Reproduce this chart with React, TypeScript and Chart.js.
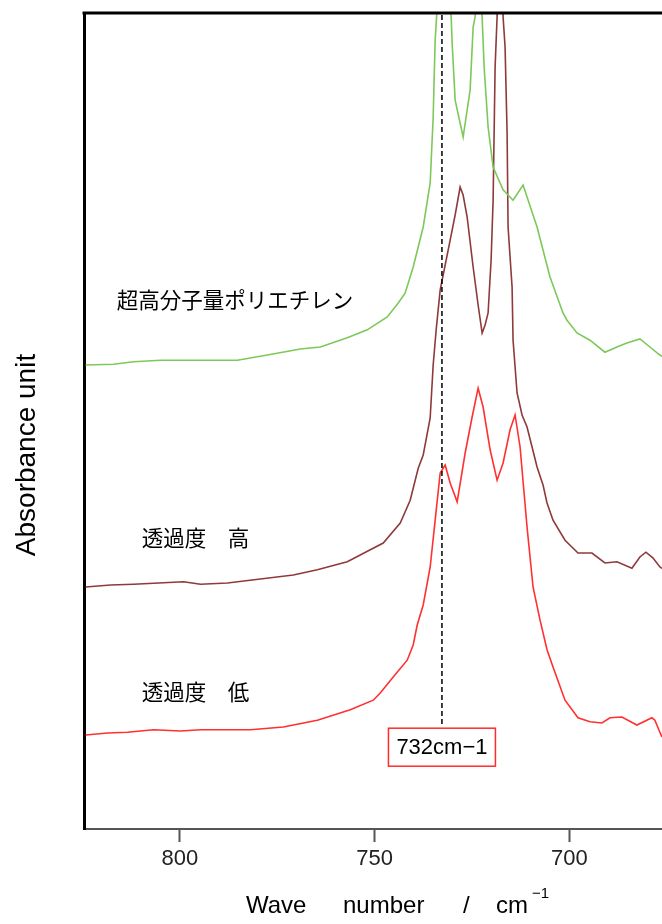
import React, { useEffect, useRef } from "react";
import { Chart, registerables } from "chart.js";

Chart.register(...registerables);

// ---- data (wave number in cm^-1, absorbance in arbitrary units) ----
const wavenumberUHMWPE = [
  824.18, 817.0, 811.87, 804.95, 794.69, 785.21, 777.51, 769.05, 763.92, 757.0,
  751.87, 746.74, 743.92, 742.13, 740.08, 737.51, 735.72, 734.95, 734.44, 732.38,
  730.33, 730.08, 729.31, 727.26, 725.46, 724.69, 724.18, 723.28, 722.38, 721.87,
  720.85, 719.56, 717.0, 714.44, 711.87, 708.28, 704.95, 701.62, 700.59, 698.03,
  694.69, 690.85, 687.77, 685.21, 681.87, 679.31, 676.74, 675.97,
];
const absorbanceUHMWPE = [
  58.0, 58.1, 58.4, 58.6, 58.6, 58.6, 59.25, 60.0, 60.25, 61.4,
  62.4, 64.0, 65.75, 67.0, 70.25, 75.25, 80.75, 89.0, 98.6, 115.0,
  101.5, 98.25, 91.1, 86.5, 92.4, 100.25, 101.5, 111.1, 101.5, 95.25,
  87.75, 82.75, 79.9, 78.6, 80.5, 75.25, 69.0, 64.5, 63.6, 62.0,
  61.1, 59.6, 60.25, 60.75, 61.25, 60.25, 59.25, 59.0,
];

const wavenumberHigh = [
  824.18, 817.77, 811.87, 799.05, 794.69, 787.77, 779.31, 770.85, 764.69, 757.0,
  751.1, 747.77, 743.41, 740.85, 738.79, 737.51, 735.72, 734.95, 734.18, 733.15,
  731.87, 730.59, 729.31, 728.03, 727.26, 726.23, 724.69, 723.41, 722.38, 721.62,
  720.85, 720.08, 719.56, 719.05, 718.54, 717.77, 717.0, 716.49, 715.97, 715.72,
  714.69, 714.44, 713.41, 712.13, 710.85, 709.56, 708.28, 706.74, 705.72, 704.18,
  701.1, 697.77, 694.18, 690.85, 687.77, 683.92, 681.87, 680.33, 678.54, 676.74,
  675.97,
];
const absorbanceHigh = [
  30.25, 30.5, 30.6, 30.9, 30.6, 30.75, 31.25, 31.75, 32.4, 33.4,
  34.9, 35.75, 38.25, 41.1, 45.1, 46.75, 51.4, 58.0, 62.4, 67.4,
  70.5, 73.6, 76.75, 80.25, 79.25, 76.5, 70.25, 65.5, 62.0, 63.0,
  64.5, 71.1, 78.6, 95.25, 101.5, 118.6, 101.5, 97.75, 87.0, 75.25,
  67.75, 61.1, 54.5, 51.75, 50.25, 47.75, 45.25, 43.0, 40.75, 38.6,
  36.1, 34.5, 34.5, 33.25, 33.4, 32.6, 34.0, 34.6, 33.9, 32.75,
  32.5,
];

const wavenumberLow = [
  824.18, 818.54, 813.41, 806.74, 799.82, 794.69, 781.87, 773.41, 764.69, 756.23,
  750.33, 748.54, 745.21, 741.62, 740.08, 739.05, 737.51, 735.72, 734.44, 733.15,
  731.87, 730.59, 728.79, 726.74, 724.95, 723.41, 722.13, 720.33, 718.54, 717.0,
  715.21, 713.92, 712.64, 710.85, 709.31, 707.51, 705.72, 704.18, 701.1, 697.77,
  694.69, 691.62, 689.56, 686.49, 682.64, 678.79, 678.03, 676.23,
];
const absorbanceLow = [
  11.75, 12.0, 12.1, 12.4, 12.25, 12.4, 12.4, 12.75, 13.6, 14.9,
  16.1, 17.0, 19.0, 21.1, 23.0, 25.5, 28.0, 32.75, 38.6, 44.5,
  45.5, 43.25, 40.9, 47.0, 51.5, 55.1, 52.75, 47.4, 43.6, 45.75,
  49.9, 51.75, 47.75, 37.75, 30.25, 26.1, 22.4, 20.25, 16.1, 13.9,
  13.4, 13.25, 13.9, 14.0, 13.0, 13.9, 13.6, 11.5,
];

const seriesNames = ["超高分子量ポリエチレン", "透過度\u3000高", "透過度\u3000低"];
const seriesColors = ["#7cc95a", "#8e3a3a", "#ff3030"];
// label anchor positions in data units (wave number, absorbance)
const labelWavenumbers = [816.2, 809.8, 809.8];
const labelAbsorbances = [66.1, 36.4, 17.1];

const tickValues = [800, 750, 700];
const xMin = 676.2;
const xMax = 824.6;
const yMin = 0;
const yMax = 102;

const markerWavenumber = 732.7;
const markerLabel = "732cm\u22121";
const markerLabelTopValue = 12.6;

const yTitle = "Absorbance unit";

const LATIN = '"Liberation Sans", Arial, sans-serif';
const CJK = '"Noto Sans CJK JP", "Liberation Sans", sans-serif';

function toPoints(xs: number[], ys: number[]) {
  return xs.map((x, i) => ({ x, y: ys[i] }));
}

const overlayPlugin = {
  id: "overlay",
  afterDatasetsDraw(chart: any) {
    const { ctx, chartArea, scales } = chart;
    const x = scales.x;
    const y = scales.y;
    ctx.save();

    // top frame line
    ctx.strokeStyle = "#000";
    ctx.lineWidth = 3;
    ctx.beginPath();
    ctx.moveTo(chartArea.left - 1.5, chartArea.top);
    ctx.lineTo(chartArea.right, chartArea.top);
    ctx.stroke();

    // marker dashed line + box
    const mx = x.getPixelForValue(markerWavenumber);
    const boxTop = y.getPixelForValue(markerLabelTopValue);
    const boxW = 107;
    const boxH = 38;
    ctx.strokeStyle = "#000";
    ctx.lineWidth = 1.5;
    ctx.setLineDash([5, 3]);
    ctx.beginPath();
    ctx.moveTo(mx, chartArea.top + 2);
    ctx.lineTo(mx, boxTop - 2);
    ctx.stroke();
    ctx.setLineDash([]);
    ctx.fillStyle = "#fff";
    ctx.fillRect(mx - boxW / 2, boxTop, boxW, boxH);
    ctx.strokeStyle = "#ff2a2a";
    ctx.lineWidth = 1.5;
    ctx.strokeRect(mx - boxW / 2, boxTop, boxW, boxH);
    ctx.fillStyle = "#000";
    ctx.font = `22px ${LATIN}`;
    ctx.textAlign = "center";
    ctx.textBaseline = "middle";
    ctx.fillText(markerLabel, mx, boxTop + boxH / 2 + 1);

    // series labels
    ctx.font = `21.5px ${CJK}`;
    ctx.textAlign = "left";
    ctx.textBaseline = "middle";
    ctx.fillStyle = "#000";
    seriesNames.forEach((name, i) => {
      ctx.fillText(
        name,
        x.getPixelForValue(labelWavenumbers[i]),
        y.getPixelForValue(labelAbsorbances[i])
      );
    });

    // y title
    ctx.save();
    ctx.translate(35, (chartArea.top + chartArea.bottom) / 2 + 34);
    ctx.rotate(-Math.PI / 2);
    ctx.font = `28px ${LATIN}`;
    ctx.textAlign = "center";
    ctx.textBaseline = "alphabetic";
    ctx.fillStyle = "#000";
    ctx.fillText(yTitle, 0, 0);
    ctx.restore();

    // x title
    ctx.font = `24px ${LATIN}`;
    ctx.textAlign = "left";
    ctx.textBaseline = "alphabetic";
    ctx.fillStyle = "#000";
    const base = 913;
    ctx.fillText("Wave", 246, base);
    ctx.fillText("number", 343, base);
    ctx.fillText("/", 463, base);
    ctx.fillText("cm", 496, base);
    ctx.font = `15px ${LATIN}`;
    ctx.fillText("\u22121", 532, base - 15);

    ctx.restore();
  },
};

export default function App() {
  const ref = useRef<HTMLCanvasElement | null>(null);

  useEffect(() => {
    if (!ref.current) return;
    const mk = (i: number, xs: number[], ys: number[]) => ({
      label: seriesNames[i],
      data: toPoints(xs, ys),
      borderColor: seriesColors[i],
      backgroundColor: seriesColors[i],
      borderWidth: 1.6,
      pointRadius: 0,
      tension: 0,
      fill: false,
    });
    const chart = new Chart(ref.current, {
      type: "line",
      data: {
        datasets: [
          mk(0, wavenumberUHMWPE, absorbanceUHMWPE),
          mk(1, wavenumberHigh, absorbanceHigh),
          mk(2, wavenumberLow, absorbanceLow),
        ],
      },
      options: {
        animation: false,
        responsive: false,
        maintainAspectRatio: false,
        devicePixelRatio: 1,
        parsing: true,
        layout: { padding: { top: 13, left: 0, right: 0, bottom: 0 } },
        plugins: {
          legend: { display: false },
          tooltip: { enabled: false },
          title: { display: false },
        },
        scales: {
          x: {
            type: "linear",
            reverse: true,
            min: xMin,
            max: xMax,
            afterBuildTicks: (scale: any) => {
              scale.ticks = tickValues.map((v) => ({ value: v }));
            },
            afterFit: (scale: any) => {
              scale.height = 95;
            },
            ticks: {
              autoSkip: false,
              maxRotation: 0,
              padding: 4,
              color: "#222",
              font: { family: LATIN, size: 22 },
              callback: (v: any) => String(v),
            },
            grid: {
              display: true,
              drawOnChartArea: false,
              drawTicks: true,
              tickLength: 13,
              tickWidth: 2,
              tickColor: "#555",
            },
            border: { display: true, color: "#555", width: 2 },
          },
          y: {
            type: "linear",
            min: yMin,
            max: yMax,
            ticks: { display: false },
            grid: { display: false, drawTicks: false },
            border: { display: true, color: "#000", width: 3 },
            afterFit: (scale: any) => {
              scale.width = 84;
            },
          },
        },
      },
      plugins: [overlayPlugin],
    });
    return () => chart.destroy();
  }, []);

  return (
    <div
      style={{
        position: "fixed",
        left: 0,
        top: 0,
        width: 662,
        height: 924,
        background: "#fff",
      }}
    >
      <canvas ref={ref} width={662} height={924} style={{ width: 662, height: 924, display: "block" }} />
    </div>
  );
}
